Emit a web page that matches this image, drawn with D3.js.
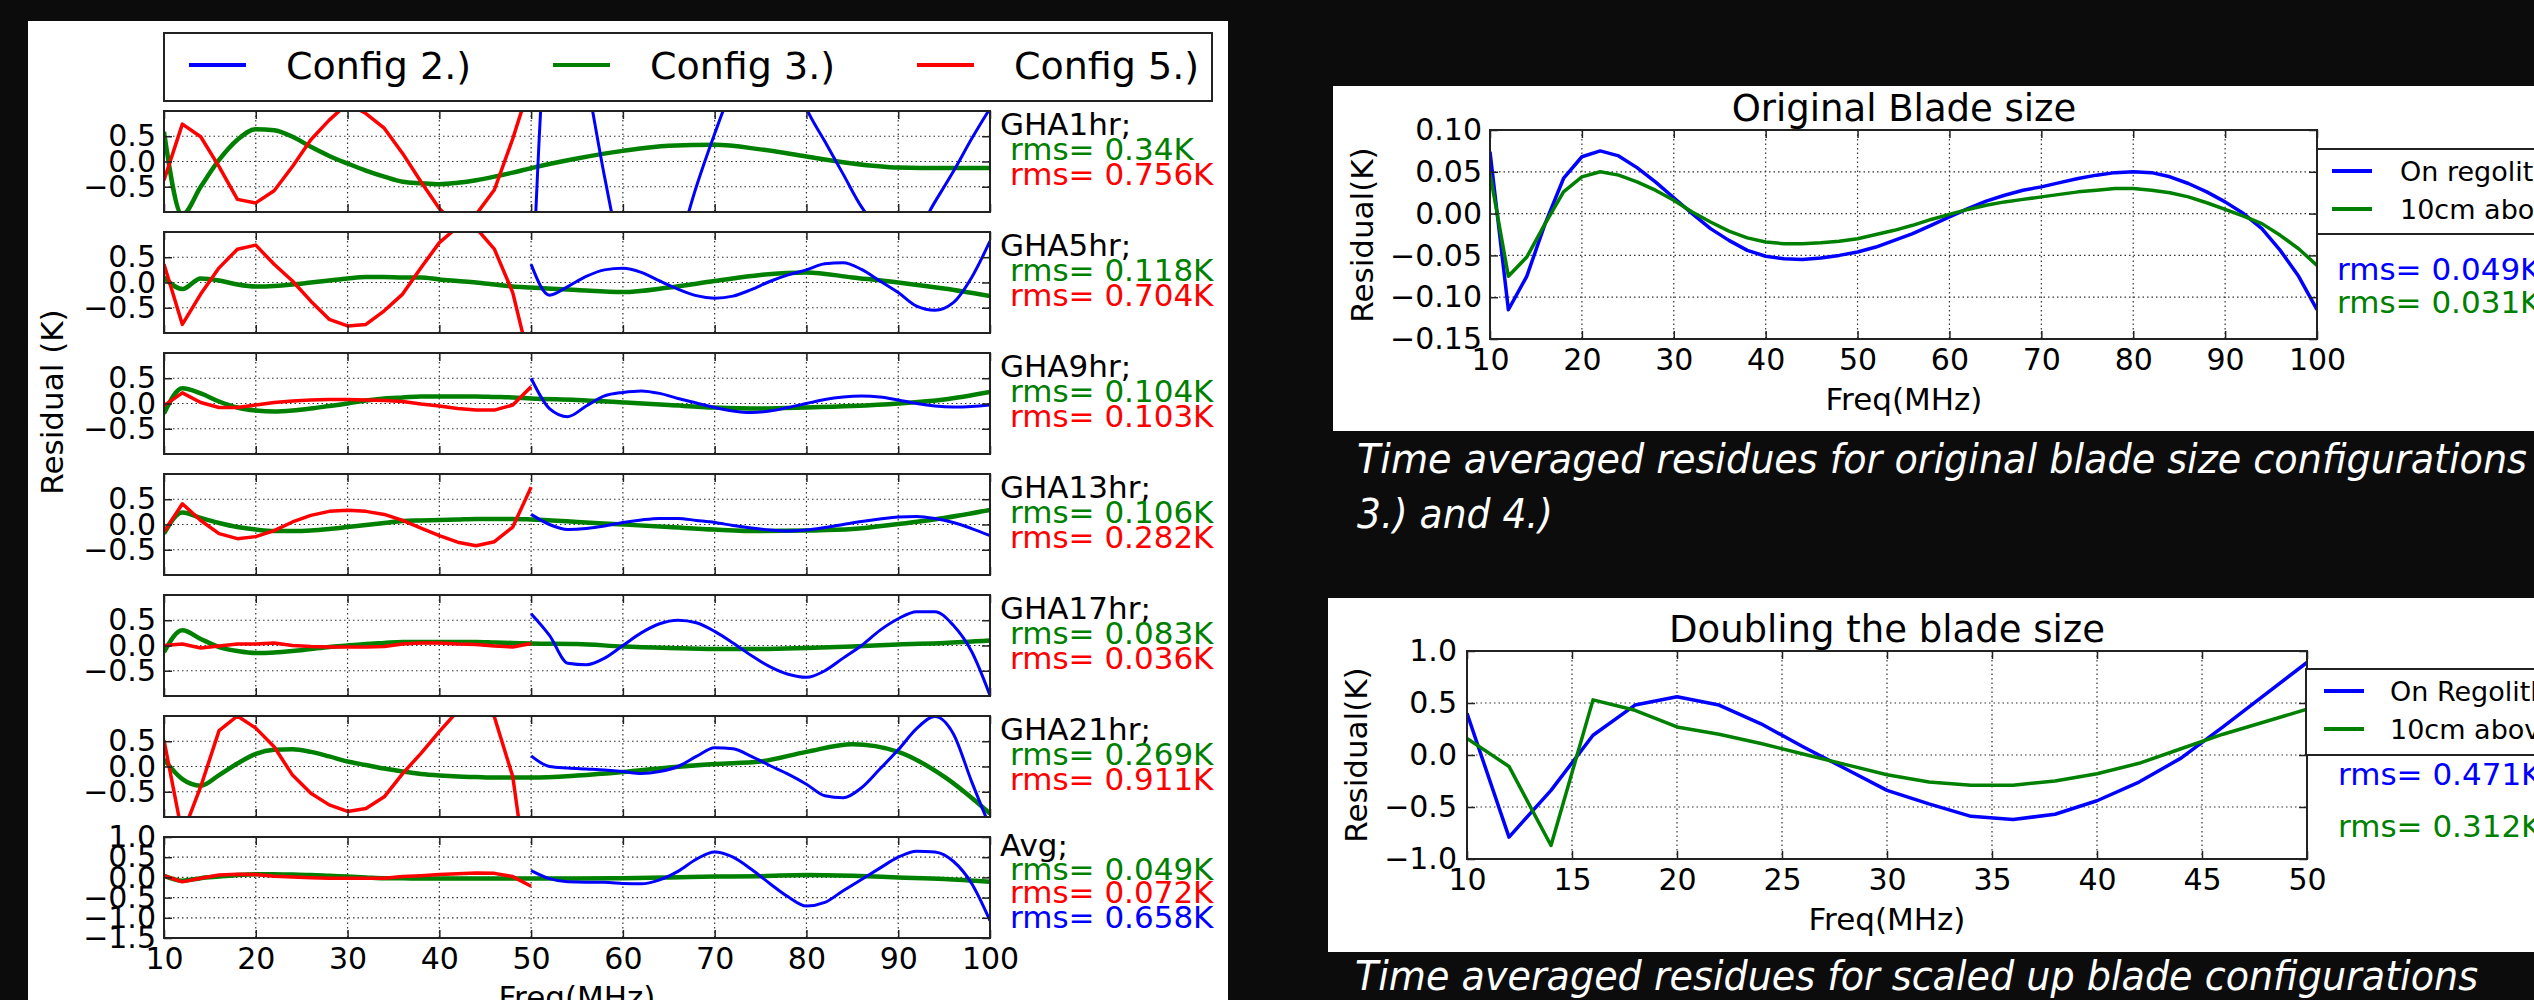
<!DOCTYPE html>
<html>
<head>
<meta charset="utf-8">
<script src="https://cdn.jsdelivr.net/npm/d3@7"></script>
<style>
  html, body { margin: 0; padding: 0; background: #0c0c0c; overflow: hidden; }
  svg { display: block; }
  text { font-family: "DejaVu Sans", sans-serif; }
</style>
</head>
<body>
<div id="chart"></div>
<script>
// residual data (K); x in MHz
const freqLow = [10, 12, 14, 16, 18, 20, 22, 24, 26, 28, 30, 32, 34, 36, 38, 40, 42, 44, 46, 48, 50];
const freqHigh = [50, 52, 54, 56, 58, 60, 62, 64, 66, 68, 70, 72, 74, 76, 78, 80, 82, 84, 86, 88, 90, 92, 94, 96, 98, 100];
const freqConfig3 = [10, 12, 14, 16, 18, 20, 22, 24, 26, 28, 30, 32, 34, 36, 38, 40, 42, 44, 46, 48, 50,
  55, 60, 65, 70, 75, 80, 85, 90, 95, 100];
const freqFull = [10, 12, 14, 16, 18, 20, 22, 24, 26, 28, 30, 32, 34, 36, 38, 40, 42, 44, 46, 48, 50,
  52, 54, 56, 58, 60, 62, 64, 66, 68, 70, 72, 74, 76, 78, 80, 82, 84, 86, 88, 90, 92, 94, 96, 98, 100];

const rowLabels = ["GHA1hr;", "GHA5hr;", "GHA9hr;", "GHA13hr;", "GHA17hr;", "GHA21hr;", "Avg;"];
const rmsConfig3 = ["0.34K", "0.118K", "0.104K", "0.106K", "0.083K", "0.269K", "0.049K"];
const rmsConfig5 = ["0.756K", "0.704K", "0.103K", "0.282K", "0.036K", "0.911K", "0.072K"];
const rmsConfig2 = ["", "", "", "", "", "", "0.658K"];

// Config 3.) green, 10-100 MHz
const config3 = [
  [0.59, -1.05, -0.5, 0.03, 0.43, 0.64, 0.62, 0.49, 0.29, 0.11, -0.04, -0.18, -0.30, -0.40, -0.43, -0.45, -0.42, -0.37, -0.30, -0.22, -0.13,
   0.06, 0.21, 0.31, 0.33, 0.24, 0.10, -0.04, -0.12, -0.13, -0.13],
  [0.10, -0.13, 0.08, 0.04, -0.04, -0.08, -0.07, -0.04, 0.0, 0.04, 0.08, 0.11, 0.11, 0.10, 0.10, 0.06, 0.03, 0.0, -0.04, -0.08, -0.10,
   -0.15, -0.19, -0.10, 0.03, 0.15, 0.20, 0.10, 0.0, -0.12, -0.27],
  [-0.20, 0.30, 0.20, 0.04, -0.08, -0.14, -0.16, -0.14, -0.10, -0.05, 0.0, 0.06, 0.10, 0.12, 0.14, 0.14, 0.14, 0.14, 0.13, 0.12, 0.10,
   0.07, 0.02, -0.03, -0.08, -0.10, -0.08, -0.05, 0.0, 0.08, 0.23],
  [-0.18, 0.24, 0.13, 0.03, -0.05, -0.10, -0.13, -0.13, -0.12, -0.09, -0.05, -0.01, 0.03, 0.07, 0.08, 0.09, 0.10, 0.11, 0.11, 0.11, 0.10,
   0.05, 0.0, -0.05, -0.10, -0.13, -0.12, -0.09, 0.01, 0.13, 0.29],
  [-0.13, 0.30, 0.13, -0.03, -0.11, -0.15, -0.14, -0.11, -0.07, -0.03, 0.0, 0.03, 0.05, 0.07, 0.07, 0.07, 0.07, 0.07, 0.06, 0.05, 0.04,
   0.03, -0.02, -0.05, -0.07, -0.07, -0.05, -0.02, 0.02, 0.05, 0.10],
  [0.14, -0.25, -0.38, -0.17, 0.06, 0.25, 0.33, 0.34, 0.29, 0.20, 0.10, 0.03, -0.04, -0.10, -0.15, -0.18, -0.20, -0.21, -0.22, -0.22, -0.22,
   -0.18, -0.11, -0.02, 0.05, 0.10, 0.29, 0.44, 0.29, -0.20, -0.93],
  [0.04, -0.08, -0.02, 0.02, 0.06, 0.08, 0.08, 0.07, 0.06, 0.04, 0.02, 0.0, -0.02, -0.02, -0.03, -0.03, -0.03, -0.03, -0.03, -0.03, -0.03,
   -0.03, -0.02, 0.0, 0.02, 0.03, 0.06, 0.04, 0.0, -0.04, -0.11]
];

// Config 5.) red, 10-50 MHz
const config5 = [
  [-0.37, 0.74, 0.49, -0.10, -0.75, -0.82, -0.58, -0.10, 0.43, 0.82, 1.15, 0.95, 0.66, 0.16, -0.40, -0.93, -1.30, -1.05, -0.56, 0.45, 1.60],
  [0.36, -0.83, -0.23, 0.29, 0.66, 0.74, 0.36, 0.03, -0.37, -0.73, -0.86, -0.83, -0.56, -0.23, 0.29, 0.79, 1.10, 1.08, 0.66, -0.20, -1.70],
  [-0.04, 0.21, 0.02, -0.08, -0.08, -0.03, 0.02, 0.05, 0.07, 0.08, 0.08, 0.07, 0.06, 0.04, -0.01, -0.05, -0.10, -0.13, -0.13, -0.03, 0.33],
  [-0.15, 0.41, 0.08, -0.18, -0.28, -0.24, -0.12, 0.05, 0.18, 0.26, 0.28, 0.26, 0.20, 0.08, -0.07, -0.22, -0.35, -0.42, -0.34, -0.05, 0.74],
  [0.0, 0.03, -0.05, -0.01, 0.03, 0.03, 0.05, 0.0, -0.02, -0.03, -0.03, -0.03, -0.02, 0.03, 0.05, 0.05, 0.03, 0.02, -0.01, -0.03, 0.04],
  [0.52, -1.35, -0.40, 0.71, 1.0, 0.76, 0.39, -0.17, -0.53, -0.76, -0.89, -0.83, -0.60, -0.14, 0.26, 0.69, 1.10, 1.50, 0.98, -0.20, -2.80],
  [0.04, -0.11, -0.02, 0.06, 0.08, 0.07, 0.03, 0.01, -0.01, -0.02, -0.02, -0.02, -0.02, 0.02, 0.04, 0.07, 0.09, 0.11, 0.10, 0.02, -0.22]
];

// Config 2.) blue, 50-100 MHz
const config2 = [
  [-3.2, 3.0, 3.5, 1.7, -0.3, -2.0, -2.8, -2.6, -1.7, -0.5, 0.55, 1.5, 2.2, 2.4, 2.0, 1.05, 0.4, -0.25, -0.9, -1.35, -1.6, -1.4, -0.8, -0.2, 0.45, 1.05],
  [0.36, -0.25, -0.08, 0.12, 0.25, 0.28, 0.20, 0.03, -0.13, -0.26, -0.31, -0.27, -0.14, 0.02, 0.15, 0.25, 0.37, 0.39, 0.26, 0.03, -0.20, -0.47, -0.55, -0.40, 0.10, 0.82],
  [0.50, -0.10, -0.26, -0.05, 0.15, 0.22, 0.25, 0.20, 0.10, 0.01, -0.08, -0.15, -0.18, -0.15, -0.08, 0.0, 0.08, 0.13, 0.15, 0.13, 0.07, 0.0, -0.05, -0.07, -0.06, -0.03],
  [0.20, 0.0, -0.10, -0.08, -0.03, 0.04, 0.09, 0.12, 0.12, 0.08, 0.04, -0.02, -0.07, -0.11, -0.13, -0.11, -0.06, 0.0, 0.06, 0.11, 0.15, 0.16, 0.12, 0.04, -0.08, -0.22],
  [0.63, 0.20, -0.35, -0.38, -0.25, 0.0, 0.25, 0.43, 0.50, 0.45, 0.28, 0.05, -0.20, -0.42, -0.57, -0.63, -0.50, -0.25, 0.0, 0.30, 0.53, 0.67, 0.67, 0.40, -0.12, -0.99],
  [0.21, 0.0, -0.03, -0.05, -0.07, -0.10, -0.14, -0.10, 0.0, 0.20, 0.37, 0.35, 0.20, 0.02, -0.15, -0.35, -0.58, -0.62, -0.42, -0.05, 0.33, 0.75, 0.99, 0.65, -0.30, -1.20],
  [0.17, -0.03, -0.11, -0.12, -0.12, -0.15, -0.16, -0.06, 0.15, 0.45, 0.63, 0.50, 0.20, -0.15, -0.48, -0.71, -0.62, -0.33, -0.05, 0.23, 0.50, 0.65, 0.63, 0.40, -0.15, -1.07]
];

// original blade size (top right)
const origRegolith = [0.074, -0.115, -0.075, -0.012, 0.042, 0.068, 0.075, 0.069, 0.055, 0.038, 0.019, 0.0, -0.018, -0.032, -0.044, -0.051,
  -0.054, -0.055, -0.053, -0.050, -0.046, -0.040, -0.032, -0.024, -0.014, -0.004, 0.006, 0.015, 0.022, 0.028, 0.032, 0.037, 0.042,
  0.046, 0.049, 0.050, 0.049, 0.044, 0.036, 0.026, 0.014, 0.0, -0.018, -0.044, -0.075, -0.115];
const origAbove = [0.048, -0.075, -0.052, -0.012, 0.026, 0.044, 0.050, 0.046, 0.038, 0.028, 0.016, 0.002, -0.010, -0.021, -0.029, -0.034,
  -0.036, -0.036, -0.035, -0.033, -0.030, -0.025, -0.020, -0.014, -0.007, -0.001, 0.005, 0.010, 0.014, 0.017, 0.020, 0.023, 0.026,
  0.028, 0.030, 0.030, 0.028, 0.025, 0.020, 0.013, 0.005, -0.003, -0.012, -0.026, -0.042, -0.062];

// doubled blade size (bottom right), 10-50 MHz
const doubleRegolith = [0.40, -0.79, -0.34, 0.19, 0.48, 0.56, 0.48, 0.30, 0.08, -0.13, -0.34, -0.47, -0.59, -0.62, -0.57, -0.44, -0.26, -0.03, 0.27, 0.58, 0.89];
const doubleAbove = [0.16, -0.11, -0.87, 0.53, 0.43, 0.27, 0.20, 0.11, 0.01, -0.09, -0.19, -0.26, -0.29, -0.29, -0.25, -0.18, -0.08, 0.06, 0.20, 0.32, 0.44];

const W = 2534, H = 1000;
const BLUE = "#0000ff", GREEN = "#008000", RED = "#ff0000", INK = "#222";

const svg = d3.select("#chart").append("svg").attr("width", W).attr("height", H);
const defs = svg.append("defs");
svg.append("rect").attr("width", W).attr("height", H).attr("fill", "#0c0c0c");

// white figure backgrounds
svg.append("rect").attr("x", 28).attr("y", 21).attr("width", 1200).attr("height", 1000).attr("fill", "#fff");
svg.append("rect").attr("x", 1333).attr("y", 86).attr("width", 1300).attr("height", 345).attr("fill", "#fff");
svg.append("rect").attr("x", 1328).attr("y", 598).attr("width", 1300).attr("height", 354).attr("fill", "#fff");

const minus = (f) => (d) => f(d).replace("-", "\u2212");
let clipN = 0;

function panel({ x, y, xTicks, yTicks, xFmt, yFmt, showX = true, series, padY = 8 }) {
  const [l, r] = x.range(), [b, t] = y.range();
  const g = svg.append("g");
  const [x0, x1] = x.domain(), [y0, y1] = y.domain();

  g.append("g").selectAll("line").data(xTicks.filter((v) => v > x0 && v < x1)).join("line")
    .attr("x1", (d) => x(d)).attr("x2", (d) => x(d)).attr("y1", t).attr("y2", b);
  g.append("g").selectAll("line").data(yTicks.filter((v) => v > y0 && v < y1)).join("line")
    .attr("y1", (d) => y(d)).attr("y2", (d) => y(d)).attr("x1", l).attr("x2", r);
  g.selectAll("g line").attr("stroke", "#333").attr("stroke-width", 1.2).attr("stroke-dasharray", "1.5,3");

  const id = "clip" + (clipN++);
  defs.append("clipPath").attr("id", id).append("rect")
    .attr("x", l).attr("y", t).attr("width", r - l).attr("height", b - t);
  const lines = g.append("g").attr("clip-path", `url(#${id})`);
  for (const s of series) {
    const line = d3.line().x((d) => x(d[0])).y((d) => y(d[1])).curve(s.curve || d3.curveLinear);
    lines.append("path").datum(s.freq.map((f, i) => [f, s.values[i]]))
      .attr("fill", "none").attr("stroke", s.color).attr("stroke-width", s.width)
      .attr("stroke-linejoin", "round").attr("d", line);
  }

  g.append("rect").attr("x", l).attr("y", t).attr("width", r - l).attr("height", b - t)
    .attr("fill", "none").attr("stroke", INK).attr("stroke-width", 2);

  const ax = (axis, tx, ty) => {
    const a = g.append("g").attr("transform", `translate(${tx},${ty})`).call(axis);
    a.select(".domain").remove();
    a.selectAll("line").attr("stroke", INK).attr("stroke-width", 1.5);
    a.selectAll("text").attr("font-size", 30).attr("fill", "#000").attr("font-family", "DejaVu Sans");
    return a;
  };
  ax(d3.axisBottom(x).tickValues(xTicks).tickSize(-8).tickPadding(10).tickFormat(showX ? xFmt : () => ""), 0, b);
  ax(d3.axisTop(x).tickValues(xTicks).tickSize(-8).tickFormat(() => ""), 0, t);
  ax(d3.axisLeft(y).tickValues(yTicks).tickSize(-8).tickPadding(padY).tickFormat(yFmt), l, 0);
  ax(d3.axisRight(y).tickValues(yTicks).tickSize(-8).tickFormat(() => ""), r, 0);
  return g;
}

function label(txt, x, y, opts = {}) {
  const t = svg.append("text").attr("x", x).attr("y", y).text(txt)
    .attr("font-size", opts.size || 31).attr("fill", opts.color || "#000");
  if (opts.anchor) t.attr("text-anchor", opts.anchor);
  if (opts.rotate) t.attr("transform", `rotate(-90,${x},${y})`);
  return t;
}

// ---------- left figure: residuals per GHA ----------
const xLeft = d3.scaleLinear().domain([10, 100]).range([164, 990]);
const freqTicks = [10, 20, 30, 40, 50, 60, 70, 80, 90, 100];
const rowTop = (i) => 111 + i * 121;
const rowH = 101;

rowLabels.forEach((name, i) => {
  const isAvg = i === rowLabels.length - 1;
  const y = d3.scaleLinear().domain(isAvg ? [-1.5, 1.0] : [-1, 1]).range([rowTop(i) + rowH, rowTop(i)]);
  panel({
    x: xLeft, y,
    xTicks: freqTicks,
    yTicks: isAvg ? [-1.5, -1.0, -0.5, 0.0, 0.5, 1.0] : [-0.5, 0.0, 0.5],
    xFmt: d3.format("d"), yFmt: minus(d3.format(".1f")),
    showX: isAvg,
    series: [
      { freq: freqConfig3, values: config3[i], color: GREEN, width: 4.5, curve: d3.curveMonotoneX },
      { freq: freqLow, values: config5[i], color: RED, width: 3.5 },
      { freq: freqHigh, values: config2[i], color: BLUE, width: 3, curve: d3.curveMonotoneX }
    ]
  });
  const top = rowTop(i);
  const offs = isAvg ? [19, 43, 66, 91] : [24, 49, 74];
  label(name, 1000, top + offs[0]);
  label("rms= " + rmsConfig3[i], 1010, top + offs[1], { color: GREEN });
  label("rms= " + rmsConfig5[i], 1010, top + offs[2], { color: RED });
  if (rmsConfig2[i]) label("rms= " + rmsConfig2[i], 1010, top + offs[3], { color: BLUE });
});

label("Residual (K)", 63, 402, { anchor: "middle", rotate: true });
label("Freq(MHz)", 577, 1008, { anchor: "middle" });

// legend of left figure
const leftLegend = [
  { name: "Config 2.)", color: BLUE },
  { name: "Config 3.)", color: GREEN },
  { name: "Config 5.)", color: RED }
];
svg.append("rect").attr("x", 164).attr("y", 33).attr("width", 1048).attr("height", 68)
  .attr("fill", "#fff").attr("stroke", INK).attr("stroke-width", 2);
leftLegend.forEach((d, i) => {
  const lx = 189 + i * 364;
  svg.append("line").attr("x1", lx).attr("x2", lx + 57).attr("y1", 65).attr("y2", 65)
    .attr("stroke", d.color).attr("stroke-width", 4);
  label(d.name, lx + 97, 79, { size: 38 });
});

// ---------- top right: original blade size ----------
const xOrig = d3.scaleLinear().domain([10, 100]).range([1490, 2317]);
const yOrig = d3.scaleLinear().domain([-0.15, 0.10]).range([339, 130]);
panel({
  x: xOrig, y: yOrig, xTicks: freqTicks, yTicks: [-0.15, -0.10, -0.05, 0.0, 0.05, 0.10],
  xFmt: d3.format("d"), yFmt: minus(d3.format(".2f")),
  series: [
    { freq: freqFull, values: origRegolith, color: BLUE, width: 3.5 },
    { freq: freqFull, values: origAbove, color: GREEN, width: 3.5 }
  ]
});
label("Original Blade size", 1904, 121, { anchor: "middle", size: 37 });
label("Residual(K)", 1373, 235, { anchor: "middle", rotate: true });
label("Freq(MHz)", 1904, 410, { anchor: "middle" });

const rightLegend1 = [
  { name: "On regolith", color: BLUE },
  { name: "10cm above regolith", color: GREEN }
];
svg.append("rect").attr("x", 2317).attr("y", 149).attr("width", 400).attr("height", 85)
  .attr("fill", "#fff").attr("stroke", INK).attr("stroke-width", 2);
rightLegend1.forEach((d, i) => {
  const ly = 171 + i * 38;
  svg.append("line").attr("x1", 2332).attr("x2", 2372).attr("y1", ly).attr("y2", ly)
    .attr("stroke", d.color).attr("stroke-width", 4);
  label(d.name, 2400, ly + 10, { size: 27 });
});
label("rms= 0.049K", 2337, 280, { color: BLUE });
label("rms= 0.031K", 2337, 313, { color: GREEN });

// ---------- bottom right: doubled blade size ----------
const xDouble = d3.scaleLinear().domain([10, 50]).range([1467, 2307]);
const yDouble = d3.scaleLinear().domain([-1, 1]).range([859, 651]);
panel({
  x: xDouble, y: yDouble, xTicks: [10, 15, 20, 25, 30, 35, 40, 45, 50], yTicks: [-1.0, -0.5, 0.0, 0.5, 1.0],
  xFmt: d3.format("d"), yFmt: minus(d3.format(".1f")), padY: 10,
  series: [
    { freq: freqLow, values: doubleRegolith, color: BLUE, width: 3.5 },
    { freq: freqLow, values: doubleAbove, color: GREEN, width: 3.5 }
  ]
});
label("Doubling the blade size", 1887, 642, { anchor: "middle", size: 37 });
label("Residual(K)", 1367, 755, { anchor: "middle", rotate: true });
label("Freq(MHz)", 1887, 930, { anchor: "middle" });

const rightLegend2 = [
  { name: "On Regolith", color: BLUE },
  { name: "10cm above Regolith", color: GREEN }
];
svg.append("rect").attr("x", 2306).attr("y", 669).attr("width", 400).attr("height", 86)
  .attr("fill", "#fff").attr("stroke", INK).attr("stroke-width", 2);
rightLegend2.forEach((d, i) => {
  const ly = 691 + i * 38;
  svg.append("line").attr("x1", 2324).attr("x2", 2364).attr("y1", ly).attr("y2", ly)
    .attr("stroke", d.color).attr("stroke-width", 4);
  label(d.name, 2390, ly + 10, { size: 27 });
});
label("rms= 0.471K", 2338, 785, { color: BLUE });
label("rms= 0.312K", 2338, 837, { color: GREEN });

// ---------- captions ----------
function caption(txt, x, y, len) {
  svg.append("text").attr("x", x).attr("y", y).text(txt)
    .attr("font-family", "Lato, 'Open Sans', sans-serif").attr("font-style", "italic")
    .attr("font-size", 40).attr("fill", "#fff")
    .attr("textLength", len).attr("lengthAdjust", "spacingAndGlyphs");
}
caption("Time averaged residues for original blade size configurations", 1357, 473, 1170);
caption("3.) and 4.)", 1357, 528, 196);
caption("Time averaged residues for scaled up blade configurations", 1355, 990, 1123);
</script>
</body>
</html>
